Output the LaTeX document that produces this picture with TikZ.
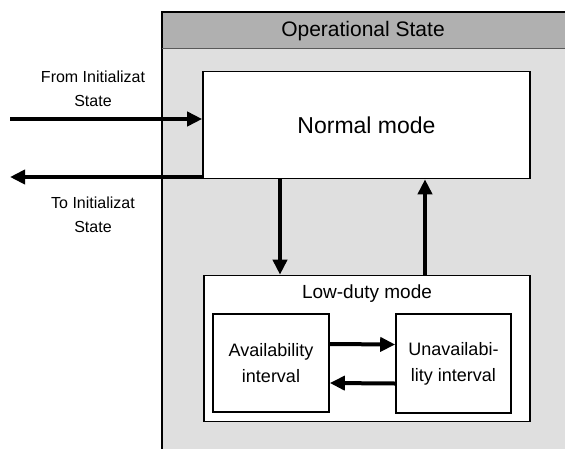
\documentclass[tikz,border=0pt]{standalone}
\usepackage{fontspec}
\setmainfont{Liberation Sans}
\usetikzlibrary{arrows.meta, calc, positioning}
\tikzset{
  stato/.style = {draw, line width = 1.6pt, fill = white, align = center},
  freccia/.style = {line width = 4pt, -{Triangle[length = 15pt, width = 14pt]}},
}

\begin{document}
\begin{tikzpicture}[x = 1pt, y = -1pt]
    \pgfmathsetmacro{\largh}{565}
    \pgfmathsetmacro{\alt}{448}
    \pgfmathsetmacro{\bordo}{162}
    \useasboundingbox (0,0) rectangle (\largh,\alt);
    \clip (0,0) rectangle (\largh,\alt);
    % Sfondo
    \fill[gray!25] (\bordo,12) rectangle (\largh+5,\alt+5);
    \fill[gray!62] (\bordo,12) rectangle (\largh+5,48);
    \draw[line width = 1.6pt] (\largh+5,12) -- (\bordo,12) -- (\bordo,\alt+5);
    \draw[line width = 0.6pt, gray!70!black] (\bordo,48) -- (\largh+5,48);
    \node[font = \fontsize{21}{24}\selectfont] (titolo) at (363,31) {Operational State};
    % Stati
    \node[stato, minimum width = 327pt, minimum height = 107pt, font = \fontsize{23}{26}\selectfont] (normale) at (366.5,125) {Normal mode};
    \node[stato, minimum width = 326pt, minimum height = 146pt] (basso) at (367,348.5) {};
    \node[font = \fontsize{19}{22}\selectfont, below = 6pt of basso.north] (bassoTitolo) {Low-duty mode};
    \node[stato, minimum width = 116pt, minimum height = 98pt, font = \fontsize{18}{26}\selectfont] (disp) at (271,363) {Availability\\interval};
    \node[stato, minimum width = 115pt, minimum height = 99pt, font = \fontsize{18}{26}\selectfont] (indisp) at (453.5,363.5) {Unavailabi-\\lity interval};
    % Etichette
    \node[font = \fontsize{16}{24}\selectfont, align = center] (daInit) at (93,89) {From Initializat\\State};
    \node[font = \fontsize{16}{24}\selectfont, align = center] (aInit) at (93,215) {To Initializat\\State};
    % Frecce
    \coordinate (ingresso) at (10,119);
    \coordinate (uscita) at (10,177);
    \coordinate (giu) at (280,0);
    \coordinate (su) at (425,0);
    \draw[freccia] (ingresso) -- (ingresso -| normale.west);
    \draw[freccia] (uscita -| normale.west) -- (uscita);
    \draw[freccia] (normale.south -| giu) -- (basso.north -| giu);
    \draw[freccia] (basso.north -| su) -- (normale.south -| su);
    \draw[freccia] ($(disp.east)+(0,-19)$) -- ($(indisp.west)+(0,-19)$);
    \draw[freccia] ($(indisp.west)+(0,20)$) -- ($(disp.east)+(0,20)$);
\end{tikzpicture}
\end{document}
